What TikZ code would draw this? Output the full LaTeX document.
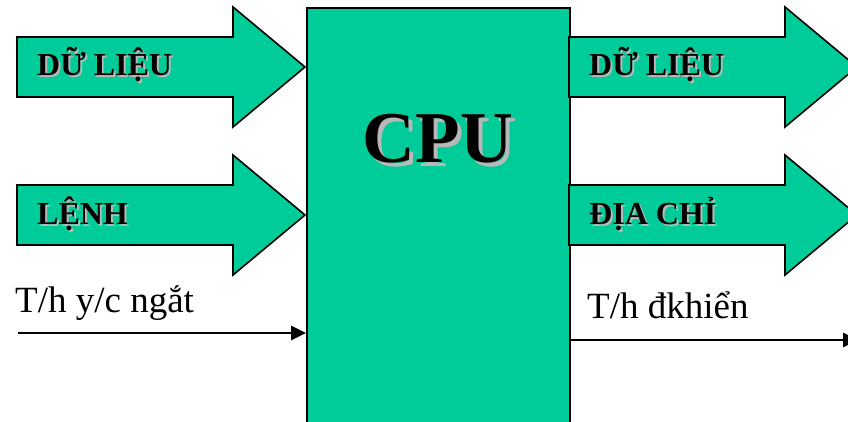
\documentclass[tikz,border=0pt]{standalone}
\usepackage{fontspec}
\setmainfont{Liberation Serif}
\usetikzlibrary{positioning, arrows.meta}

\definecolor{cpugreen}{RGB}{0,204,153}

% text with a grey drop shadow, #1 = offset
\newcommand{\shadowed}[2]{%
  \makebox[0pt][l]{\kern#1\raisebox{-#1}{\textcolor{black!28}{#2}}}#2}

\begin{document}
\begin{tikzpicture}[x=1pt, y=-1pt,
    bus/.style={draw=black, line width=1.6pt, fill=cpugreen},
    buslbl/.style={anchor=base west, inner sep=0pt, font=\fontsize{32}{36}\selectfont\bfseries},
    siglbl/.style={anchor=base west, inner sep=0pt, font=\fontsize{37}{40}\selectfont},
    sigline/.style={line width=2.6pt, -{Triangle[length=15pt, width=14pt]}}]
        \useasboundingbox (0,0) rectangle (848,422);
        \clip (0,0) rectangle (848,422);

        % cpu block
        \node[bus, anchor=north west, inner sep=0pt, minimum width=263pt,
              minimum height=440pt] (cpu) at (306,7) {};
        \node[anchor=base, inner sep=0pt, font=\fontsize{73}{80}\selectfont\bfseries]
              (cpulbl) at (438,163) {\shadowed{4pt}{CPU}};

        % buses
        \foreach \x/\y in {17/67, 17/215, 569/67, 569/215}
          \draw[bus] (\x,\y-30) -- ++(216,0) -- ++(0,-30) -- ++(72,60)
                     -- ++(-72,60) -- ++(0,-30) -- ++(-216,0) -- cycle;

        \node[buslbl] (datain)  at (37,76)   {\shadowed{2pt}{DỮ LIỆU}};
        \node[buslbl] (instr)   at (37,224)  {\shadowed{2pt}{LỆNH}};
        \node[buslbl] (dataout) at (589,76)  {\shadowed{2pt}{DỮ LIỆU}};
        \node[buslbl] (addr)    at (589,224) {\shadowed{2pt}{ĐỊA CHỈ}};

        % interrupt request
        \node[siglbl] (intlbl) at (15,312) {T/h y/c ngắt};
        \coordinate (intsrc) at (18,333);
        \draw[sigline] (intsrc) -- (intsrc -| cpu.west);

        % control signals
        \node[siglbl] (ctllbl) at (587,318) {T/h đkhiển};
        \coordinate (ctlend) at (858,340);
        \draw[sigline] (cpu.east |- ctlend) -- (ctlend);
      \end{tikzpicture}
\end{document}
